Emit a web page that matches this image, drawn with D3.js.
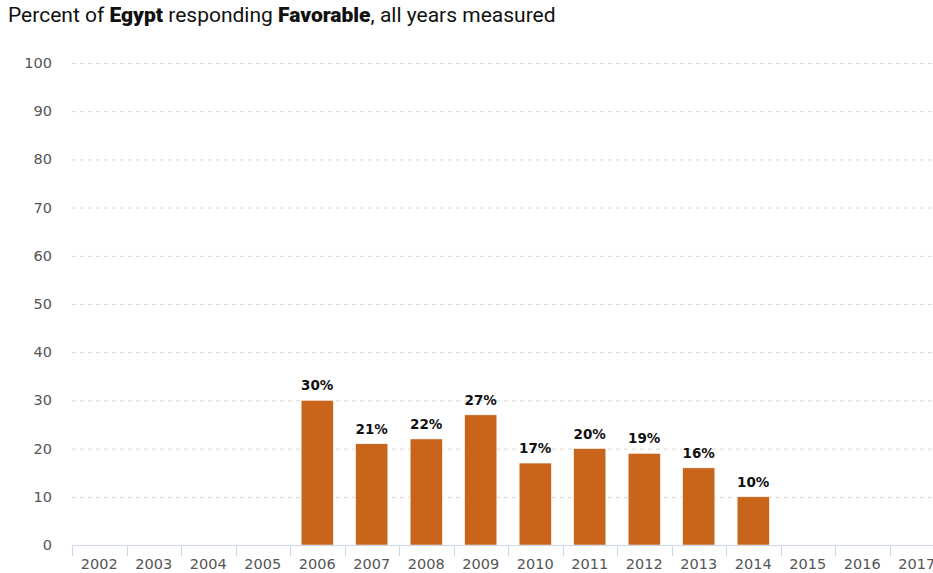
<!DOCTYPE html>
<html><head><meta charset="utf-8">
<script src="https://cdn.jsdelivr.net/npm/d3@7"></script>
<style>body{margin:0;background:#fff;}svg{display:block;}</style>
</head><body>
<svg id="c" width="933" height="573"></svg>
<script>
const years = ["2002","2003","2004","2005","2006","2007","2008","2009","2010","2011","2012","2013","2014","2015","2016","2017"];
const values = [null,null,null,null,30,21,22,27,17,20,19,16,10,null,null,null];
const yTicks = [0,10,20,30,40,50,60,70,80,90,100];

const svg = d3.select("#c");
const x = d3.scaleBand().domain(years).range([72, 944]).paddingInner(0.41).paddingOuter(0.205);
const xb = d3.scaleBand().domain(years).range([72, 944]);
const y = d3.scaleLinear().domain([0,100]).range([545, 63]);

// title
const t = svg.append("text").attr("x", 8).attr("y", 22)
  .attr("font-family", "Roboto, 'Liberation Sans', sans-serif").attr("font-size", 18).attr("fill", "#111");
t.append("tspan").text("Percent of ");
t.append("tspan").attr("font-weight", "900").text("Egypt");
t.append("tspan").text(" responding ");
t.append("tspan").attr("font-weight", "900").text("Favorable");
t.append("tspan").text(", all years measured");
const tw = t.node().getComputedTextLength();
t.attr("font-size", 18 * 548 / tw);

// gridlines
svg.append("g").selectAll("line").data(yTicks.filter(d => d > 0)).join("line")
  .attr("x1", 72).attr("x2", 933).attr("y1", d => y(d) + 0.5).attr("y2", d => y(d) + 0.5)
  .attr("stroke", "#d8d8d8").attr("stroke-dasharray", "4,4").attr("stroke-width", 1);

// y labels
svg.append("g").selectAll("text").data(yTicks).join("text")
  .attr("x", 52).attr("y", d => y(d) + 5).attr("text-anchor", "end")
  .attr("font-family", "'DejaVu Sans', Verdana, sans-serif").attr("font-size", 14.5).attr("fill", "#555")
  .text(d => d);

// bars
const data = years.map((yr, i) => ({yr, v: values[i]})).filter(d => d.v != null);
svg.append("g").selectAll("rect").data(data).join("rect")
  .attr("x", d => x(d.yr)).attr("width", x.bandwidth())
  .attr("y", d => y(d.v)).attr("height", d => y(0) - y(d.v))
  .attr("fill", "#C8651B").attr("stroke", "#fff").attr("stroke-width", 0.5);

// value labels
svg.append("g").selectAll("text").data(data).join("text")
  .attr("x", d => x(d.yr) + x.bandwidth()/2).attr("y", d => y(d.v) - 10)
  .attr("text-anchor", "middle")
  .attr("font-family", "'DejaVu Sans', Verdana, sans-serif").attr("font-size", 13.5).attr("font-weight", "bold").attr("fill", "#111")
  .text(d => d.v + "%");

// x axis
const xa = svg.append("g");
xa.append("line").attr("x1", 72).attr("x2", 933).attr("y1", 545.5).attr("y2", 545.5).attr("stroke", "#ccd6eb");
xa.selectAll("line.tick").data(years).join("line").attr("class","tick")
  .attr("x1", d => Math.round(xb(d)) + 0.5).attr("x2", d => Math.round(xb(d)) + 0.5)
  .attr("y1", 545).attr("y2", 556).attr("stroke", "#ccd6eb");
xa.selectAll("text").data(years).join("text")
  .attr("x", d => xb(d) + xb.bandwidth()/2).attr("y", 569).attr("text-anchor", "middle")
  .attr("font-family", "'DejaVu Sans', Verdana, sans-serif").attr("font-size", 14.5).attr("fill", "#555")
  .text(d => d);
</script>
</body></html>
